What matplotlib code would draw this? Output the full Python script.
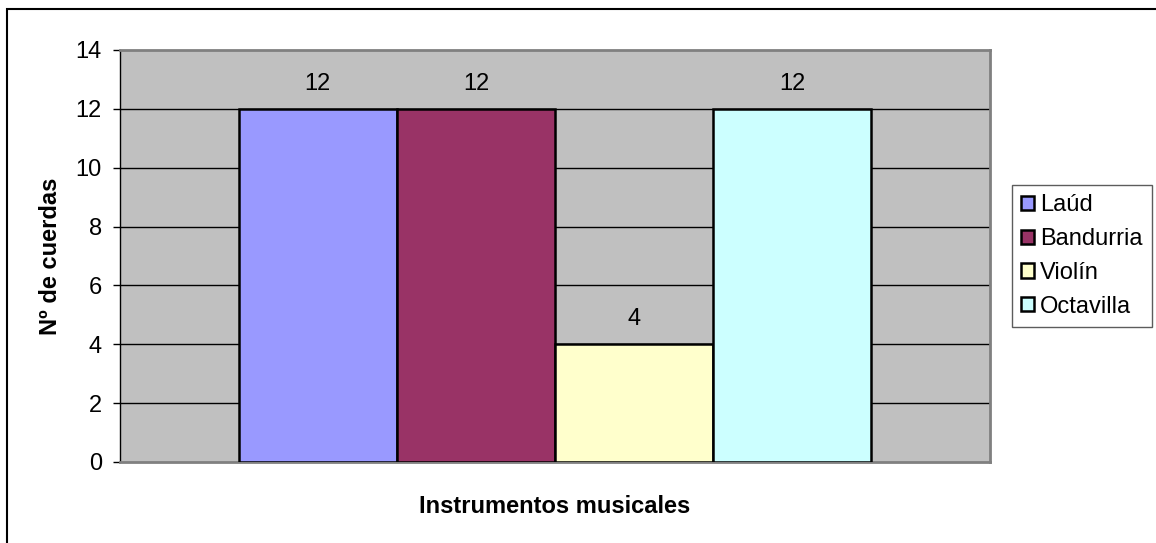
import matplotlib
matplotlib.use("Agg")
import matplotlib.pyplot as plt
from matplotlib.patches import Rectangle

# data
instrumentos = ['Laúd', 'Bandurria', 'Violín', 'Octavilla']
cuerdas = [12, 12, 4, 12]
colores = ['#9999FF', '#993366', '#FFFFCC', '#CCFFFF']
y_ticks = [0, 2, 4, 6, 8, 10, 12, 14]

plt.rcParams['font.family'] = ['Liberation Sans', 'DejaVu Sans']
fs = 17

W, H = 1156, 543
fig = plt.figure(figsize=(W / 100, H / 100), dpi=100)
fig.patch.set_facecolor('white')

# outer chart border
fig.add_artist(Rectangle((7 / W, -0.1), 1.2, (H - 9) / H + 0.1, transform=fig.transFigure,
                         fill=False, edgecolor='black', linewidth=1.5))

ax = fig.add_axes([120 / W, (H - 462) / H, 870 / W, 412 / H])
ax.set_facecolor('#C0C0C0')

w = 1 / 5.5
offsets = [-1.5, -0.5, 0.5, 1.5]
for off, name, val, col in zip(offsets, instrumentos, cuerdas, colores):
    b = ax.bar(off * w, val, width=w, color=col, edgecolor='black', linewidth=1.8,
               label=name, zorder=3)
    ax.bar_label(b, labels=[str(val)], padding=10, fontsize=fs, zorder=4)

ax.set_xlim(-0.5, 0.5)
ax.set_ylim(0, 14)
ax.set_yticks(y_ticks)
ax.set_xticks([])
ax.tick_params(axis='y', direction='out', length=5, width=1, labelsize=fs, pad=8)
for y in y_ticks[1:-1]:
    ax.axhline(y, color='black', linewidth=1, zorder=1)

for s in ['top', 'right', 'bottom']:
    ax.spines[s].set_color('#808080')
    ax.spines[s].set_linewidth(2)
ax.spines['left'].set_color('black')
ax.spines['left'].set_linewidth(1)

ax.set_ylabel('Nº de cuerdas', fontsize=fs, fontweight='bold', labelpad=10)
ax.set_xlabel('Instrumentos musicales', fontsize=fs, fontweight='bold', labelpad=24)

leg = fig.legend(loc='center left', bbox_to_anchor=(1012 / W, 1 - 256 / H),
                 fontsize=fs, frameon=True, fancybox=False, borderaxespad=0,
                 handlelength=0.55, handleheight=0.55, handletextpad=0.25,
                 labelspacing=0.5, borderpad=0.4)
leg.get_frame().set_edgecolor('#333333')
leg.get_frame().set_linewidth(1)

fig.savefig('out.png', dpi=100)
